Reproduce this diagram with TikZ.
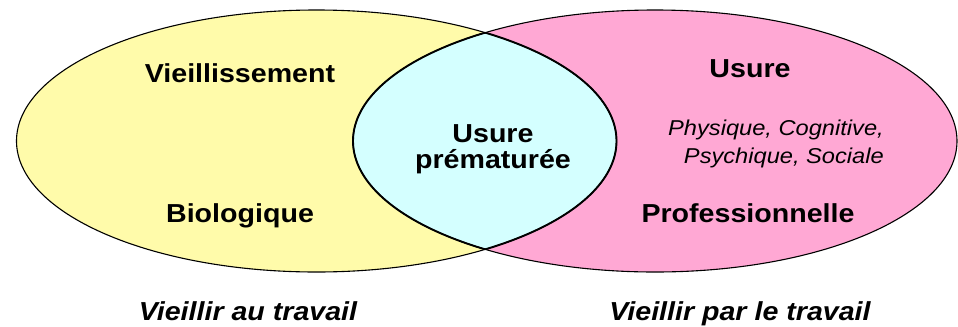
\documentclass[tikz,border=0pt]{standalone}
\usepackage{fontspec}
\setmainfont{Liberation Sans}
\usepackage{graphicx}
\definecolor{ageyellow}{RGB}{255,251,170}
\definecolor{wearpink}{RGB}{255,168,212}
\definecolor{lenscyan}{RGB}{212,255,255}
\newcommand{\bigbold}[1]{{\fontsize{26bp}{30bp}\selectfont\bfseries\scalebox{1.1}[1]{#1}}}
\newcommand{\bigboldit}[1]{{\fontsize{26bp}{30bp}\selectfont\bfseries\itshape\scalebox{1.1}[1]{#1}}}
\newcommand{\smallit}[1]{{\fontsize{21.5bp}{26bp}\selectfont\itshape\scalebox{1.1}[1]{#1}}}
\begin{document}
\begin{tikzpicture}[x=1bp,y=-1bp,
  label/.style={inner sep=0pt,anchor=base},
  outline/.style={draw=black,line width=1.1bp},
  lensline/.style={draw=black,line width=1.9bp}]
\useasboundingbox (0,0) rectangle (958,326);
\coordinate (lc) at (316.5,141);
\coordinate (rc) at (655,141);
\def\leftell{(lc) ellipse [x radius=300bp, y radius=131bp]}
\def\rightell{(rc) ellipse [x radius=302bp, y radius=131bp]}
% the two sets
\fill[ageyellow] \leftell;
\fill[wearpink] \rightell;
% their overlap
\begin{scope}
  \clip \leftell;
  \fill[lenscyan] \rightell;
\end{scope}
\draw[outline] \leftell;
\draw[outline] \rightell;
% heavier outline of the overlap
\begin{scope}
  \clip \leftell;
  \draw[lensline] \rightell;
\end{scope}
\begin{scope}
  \clip \rightell;
  \draw[lensline] \leftell;
\end{scope}
% labels
\node[label] (vs) at (240,82) {\bigbold{Vieillissement}};
\node[label] (bio) at (240,222) {\bigbold{Biologique}};
\node[label] (up1) at (493,142) {\bigbold{Usure}};
\node[label] (up2) at (493,168) {\bigbold{prématurée}};
\node[label] (us) at (750,77) {\bigbold{Usure}};
\node[label,anchor=base east] (ph1) at (884,135) {\smallit{Physique, Cognitive,}};
\node[label,anchor=base east] (ph2) at (884,163) {\smallit{Psychique, Sociale}};
\node[label] (pro) at (748,222) {\bigbold{Professionnelle}};
\node[label] (vat) at (248,320) {\bigboldit{Vieillir au travail}};
\node[label] (vpt) at (740,320) {\bigboldit{Vieillir par le travail}};
\end{tikzpicture}
\end{document}
